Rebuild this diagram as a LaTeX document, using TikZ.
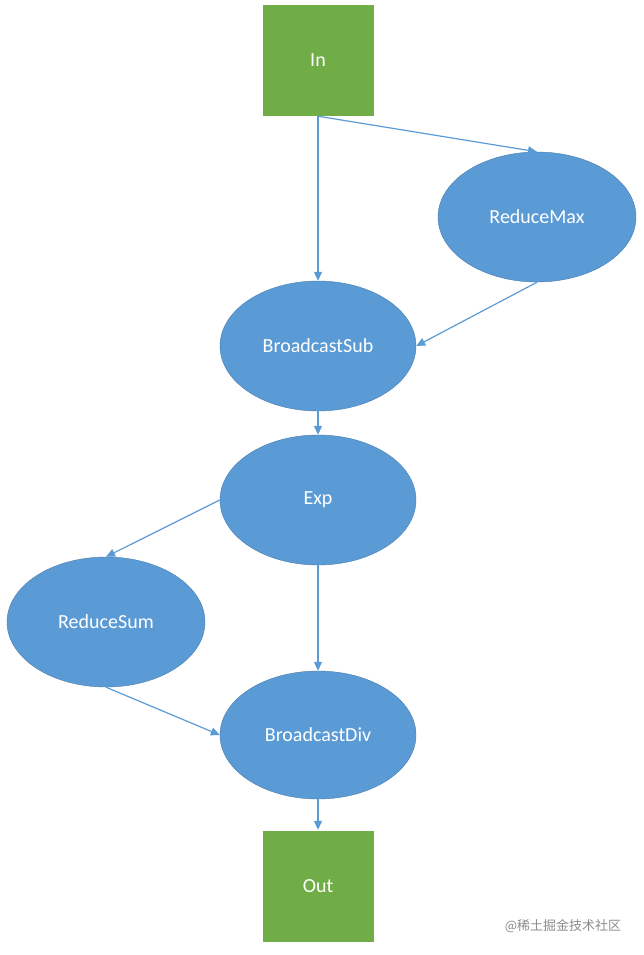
\documentclass[tikz,border=0pt]{standalone}
\usepackage{fontspec}
\setmainfont{Carlito}
\newfontfamily\cjk{Noto Sans CJK SC}
\usetikzlibrary{shapes.geometric,arrows.meta}
\definecolor{opblue}{RGB}{91,155,213}
\definecolor{iogreen}{RGB}{112,173,71}
\begin{document}
\begin{tikzpicture}[x=1pt,y=-1pt,
    io/.style={draw=white,fill=iogreen,minimum width=112pt,minimum height=112pt,text=white,font=\fontsize{20}{24}\selectfont},
    op/.style={ellipse,draw=opblue!80!black,fill=opblue,minimum width=196pt,minimum height=130pt,inner sep=0pt,text=white,font=\fontsize{20}{24}\selectfont},
    edge/.style={draw=opblue,line width=1.2pt,-{Triangle[width=8pt,length=9pt]}}]
    \useasboundingbox (0,0) rectangle (644,955);
    % Nodes
    \node[io] (in) at (318,60) {In};
    \node[op,minimum width=198pt] (rmax) at (537,217) {ReduceMax};
    \node[op] (bsub) at (318,346) {BroadcastSub};
    \node[op] (exp) at (318,500) {Exp};
    \node[op,minimum width=198pt] (rsum) at (106,622) {ReduceSum};
    \node[op,minimum height=128pt] (bdiv) at (318,735) {BroadcastDiv};
    \node[io] (out) at (318,886) {Out};
    % Edges
    \draw[edge] (in.south) -- (bsub.north);
    \draw[edge] (in.south) -- (rmax.north);
    \draw[edge] (rmax.south) -- (bsub.east);
    \draw[edge] (bsub.south) -- (exp.north);
    \draw[edge] (exp.west) -- (rsum.north);
    \draw[edge] (exp.south) -- (bdiv.north);
    \draw[edge] (rsum.south) -- (bdiv.west);
    \draw[edge] (bdiv.south) -- (out.north);
    % Watermark
    \node[text=black!45,font=\cjk\fontsize{13}{15}\selectfont] (mark) at (563,926) {@稀土掘金技术社区};
\end{tikzpicture}
\end{document}
